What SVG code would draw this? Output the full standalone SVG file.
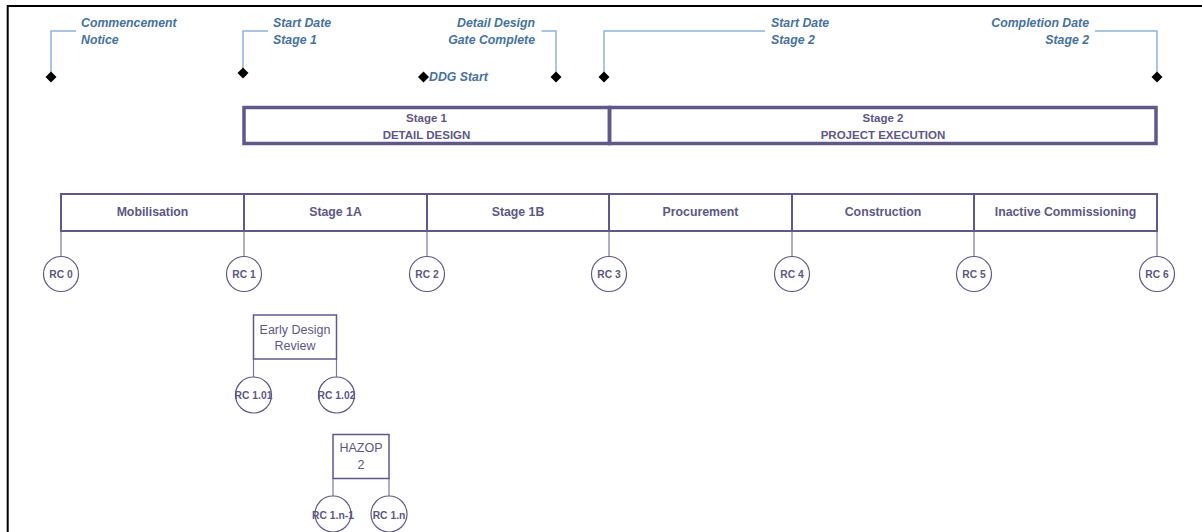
<svg xmlns="http://www.w3.org/2000/svg" width="1202" height="532" viewBox="0 0 1202 532">
<style>
.frame{fill:none;stroke:#000;stroke-width:2}
.lbl{font-family:"Liberation Sans",Arial,sans-serif;font-style:italic;font-weight:bold;font-size:12.3px;fill:#46729d}
.lead{fill:none;stroke:#8fb3da;stroke-width:1.5}
.dia{fill:#000}
.stage{fill:none;stroke:#5f5889;stroke-width:3.5}
.stxt{font-family:"Liberation Sans",Arial,sans-serif;font-weight:bold;font-size:11.5px;fill:#5d5784;text-anchor:middle}
.phase{fill:#fff;stroke:#5f5889;stroke-width:2}
.ptxt{font-family:"Liberation Sans",Arial,sans-serif;font-weight:bold;font-size:12.3px;fill:#5d5784;text-anchor:middle}
.rc{fill:#fff;stroke:#5f5889;stroke-width:1.2}
.rtxt{font-family:"Liberation Sans",Arial,sans-serif;font-weight:bold;font-size:10.3px;fill:#5d5784;text-anchor:middle}
.conn{fill:none;stroke:#7d78a0;stroke-width:1.2}
.box{fill:#fff;stroke:#5f5889;stroke-width:1.5}
.btxt{font-family:"Liberation Sans",Arial,sans-serif;font-size:12.5px;fill:#5d5784;text-anchor:middle}
</style>
<defs>
<path id="dm" d="M0,-5.5 L5.5,0 L0,5.5 L-5.5,0 Z"/>
</defs>
<rect x="0" y="0" width="1202" height="532" fill="#fff"/>
<path class="frame" d="M7.7,532 V6 H1202"/>

<g id="connectors">
<path class="lead" d="M76,31 H51 V76"/>
<path class="lead" d="M268,31 H243 V73"/>
<path class="lead" d="M541.5,31 H556 V76"/>
<path class="lead" d="M765,31 H604 V76"/>
<path class="lead" d="M1095,31 H1157 V77"/>
<path class="conn" d="M61,231 V257 M244,231 V257 M427,231 V257 M609,231 V257 M792,231 V257 M974,231 V257 M1157,231 V257"/>
<path class="conn" d="M253.5,359 V377 M336.5,359 V377"/>
<path class="conn" d="M333,478 V496 M389,478 V496"/>
</g>

<g id="m-commencement">
<use href="#dm" class="dia" x="51" y="77"/>
<text class="lbl" x="81" y="27">Commencement</text>
<text class="lbl" x="81" y="44">Notice</text>
</g>
<g id="m-start1">
<use href="#dm" class="dia" x="243" y="73"/>
<text class="lbl" x="273" y="27">Start Date</text>
<text class="lbl" x="273" y="44">Stage 1</text>
</g>
<g id="m-ddgstart">
<use href="#dm" class="dia" x="423.5" y="77"/>
<text class="lbl" x="429" y="81">DDG Start</text>
</g>
<g id="m-ddg">
<use href="#dm" class="dia" x="556" y="77"/>
<text class="lbl" x="535" y="27" text-anchor="end">Detail Design</text>
<text class="lbl" x="535" y="44" text-anchor="end">Gate Complete</text>
</g>
<g id="m-start2">
<use href="#dm" class="dia" x="604" y="77"/>
<text class="lbl" x="771" y="27">Start Date</text>
<text class="lbl" x="771" y="44">Stage 2</text>
</g>
<g id="m-complete">
<use href="#dm" class="dia" x="1157" y="77"/>
<text class="lbl" x="1089" y="27" text-anchor="end">Completion Date</text>
<text class="lbl" x="1089" y="44" text-anchor="end">Stage 2</text>
</g>

<g id="stage1">
<rect class="stage" x="244" y="107.5" width="365.5" height="36"/>
<text class="stxt" x="426.5" y="122">Stage 1</text>
<text class="stxt" x="426.5" y="138.5">DETAIL DESIGN</text>
</g>
<g id="stage2">
<rect class="stage" x="609.5" y="107.5" width="546.5" height="36"/>
<text class="stxt" x="883" y="122">Stage 2</text>
<text class="stxt" x="883" y="138.5">PROJECT EXECUTION</text>
</g>

<g id="ph-mobilisation"><rect class="phase" x="61" y="194" width="183" height="37"/><text class="ptxt" x="152.5" y="216">Mobilisation</text></g>
<g id="ph-stage1a"><rect class="phase" x="244" y="194" width="183" height="37"/><text class="ptxt" x="335.5" y="216">Stage 1A</text></g>
<g id="ph-stage1b"><rect class="phase" x="427" y="194" width="182" height="37"/><text class="ptxt" x="518" y="216">Stage 1B</text></g>
<g id="ph-procurement"><rect class="phase" x="609" y="194" width="183" height="37"/><text class="ptxt" x="700.5" y="216">Procurement</text></g>
<g id="ph-construction"><rect class="phase" x="792" y="194" width="182" height="37"/><text class="ptxt" x="883" y="216">Construction</text></g>
<g id="ph-commissioning"><rect class="phase" x="974" y="194" width="183" height="37"/><text class="ptxt" x="1065.5" y="216">Inactive Commissioning</text></g>

<g id="rc0"><circle class="rc" cx="61" cy="274" r="17.5"/><text class="rtxt" x="61" y="278">RC 0</text></g>
<g id="rc1"><circle class="rc" cx="244" cy="274" r="17.5"/><text class="rtxt" x="244" y="278">RC 1</text></g>
<g id="rc2"><circle class="rc" cx="427" cy="274" r="17.5"/><text class="rtxt" x="427" y="278">RC 2</text></g>
<g id="rc3"><circle class="rc" cx="609" cy="274" r="17.5"/><text class="rtxt" x="609" y="278">RC 3</text></g>
<g id="rc4"><circle class="rc" cx="792" cy="274" r="17.5"/><text class="rtxt" x="792" y="278">RC 4</text></g>
<g id="rc5"><circle class="rc" cx="974" cy="274" r="17.5"/><text class="rtxt" x="974" y="278">RC 5</text></g>
<g id="rc6"><circle class="rc" cx="1157" cy="274" r="17.5"/><text class="rtxt" x="1157" y="278">RC 6</text></g>

<g id="early-design-review">
<rect class="box" x="253.5" y="315" width="83" height="44"/>
<text class="btxt" x="295" y="334">Early Design</text>
<text class="btxt" x="295" y="350">Review</text>
</g>
<g id="rc101"><circle class="rc" cx="253.5" cy="395" r="18"/><text class="rtxt" x="253.5" y="399">RC 1.01</text></g>
<g id="rc102"><circle class="rc" cx="336.5" cy="395" r="18"/><text class="rtxt" x="336.5" y="399">RC 1.02</text></g>

<g id="hazop2">
<rect class="box" x="333" y="434.5" width="56" height="44"/>
<text class="btxt" x="361" y="452">HAZOP</text>
<text class="btxt" x="361" y="468.5">2</text>
</g>
<g id="rc1n-1"><circle class="rc" cx="333" cy="514" r="18"/><text class="rtxt" x="333" y="518.5">RC 1.n-1</text></g>
<g id="rc1n"><circle class="rc" cx="389" cy="514" r="18"/><text class="rtxt" x="389" y="518.5">RC 1.n</text></g>
</svg>
